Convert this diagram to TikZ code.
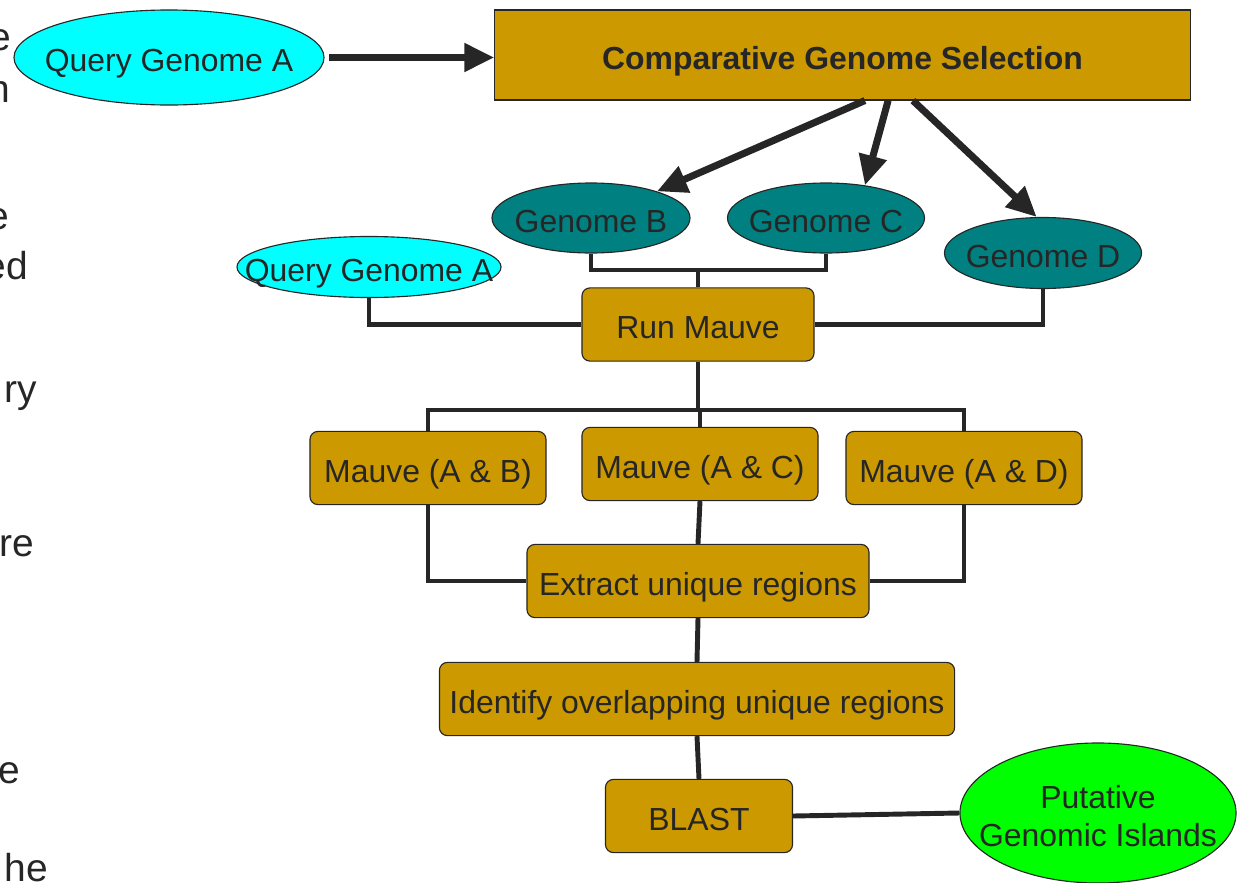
\documentclass[tikz,border=0pt]{standalone}
\usepackage{fontspec}
\setmainfont{Liberation Sans}
\usetikzlibrary{shapes,arrows.meta,positioning,calc}
\definecolor{gold}{HTML}{CC9900}
\definecolor{tealfill}{HTML}{008080}
\definecolor{cyanfill}{HTML}{00FFFF}
\definecolor{greenfill}{HTML}{00FF00}
\definecolor{ink}{HTML}{262626}
\newcommand{\lbl}[1]{\makebox[0pt]{#1}}

\begin{document}
\begin{tikzpicture}[x=0.025cm, y=-0.025cm,
  every node/.style={font=\fontsize{22.7pt}{27pt}\selectfont, text=ink, text height=0.7cm, text depth=0pt},
  oval/.style={ellipse, draw=ink, line width=0.8pt, fill=#1, inner sep=0pt},
  box/.style={rectangle, draw=ink, line width=0.8pt, fill=gold, rounded corners=0.2cm, inner sep=0pt, minimum height=1.83cm},
  selbox/.style={rectangle, draw=ink, line width=0.8pt, fill=gold, inner sep=0pt},
  conn/.style={draw=ink, line width=3.5pt},
  arr/.style={-{Triangle[length=7.5mm, width=6.8mm]}, draw=ink, fill=ink, line width=5pt},
  frag/.style={anchor=base east, inner sep=0pt, font=\fontsize{27.7pt}{32pt}\selectfont}
]
  \useasboundingbox (0,0) rectangle (1237,882);
  \clip (0,0) rectangle (1237,882);

  % cut-off text at the left edge
  \node[frag] (f1) at (11,50) {e};
  \node[frag] (f2) at (10,102) {n};
  \node[frag] (f3) at (9,229) {e};
  \node[frag] (f4) at (28,279) {ed};
  \node[frag] (f5) at (37,402) {ry};
  \node[frag] (f6) at (34,556) {re};
  \node[frag] (f7) at (20,783) {e};
  \node[frag] (f8) at (48,881) {he};

  % genome selection
  \node[oval=cyanfill, minimum width=7.75cm, minimum height=2.375cm] (qa1) at (169,57.5) {\lbl{Query Genome A}};
  \node[selbox, minimum width=17.375cm, minimum height=2.25cm] (sel) at (842.5,55) {\textbf{Comparative Genome Selection}};
  \node[oval=tealfill, minimum width=4.95cm, minimum height=1.75cm] (gB) at (591,218) {\lbl{Genome B}};
  \node[oval=tealfill, minimum width=4.925cm, minimum height=1.75cm] (gC) at (826,218) {\lbl{Genome C}};
  \node[oval=tealfill, minimum width=4.925cm, minimum height=1.775cm] (gD) at (1043,253) {\lbl{Genome D}};
  \node[oval=cyanfill, minimum width=6.6cm, minimum height=1.525cm] (qa2) at (369,267) {\lbl{Query Genome A}};

  % alignment steps
  \node[box, minimum width=5.8cm] (mauve) at (698,324.5) {Run Mauve};
  \node[box, minimum width=5.9cm] (mAB) at (428,468) {Mauve (A \& B)};
  \node[box, minimum width=5.9cm] (mAC) at (700,464) {Mauve (A \& C)};
  \node[box, minimum width=5.9cm] (mAD) at (964,468) {Mauve (A \& D)};
  \node[box, minimum width=8.55cm] (extract) at (698,581) {Extract unique regions};
  \node[box, minimum width=12.875cm] (overlap) at (697,699) {Identify overlapping unique regions};
  \node[box, minimum width=4.675cm] (blast) at (699,816) {BLAST};
  \node[oval=greenfill, minimum width=6.9cm, minimum height=3.5cm] (islands) at (1098,813)
    {\lbl{\begin{tabular}{@{}c@{}}Putative\\Genomic Islands\end{tabular}}};

  % arrows
  \draw[arr] ([xshift=0.12cm]qa1.east) -- (sel.west |- qa1.east);
  \draw[arr] ([xshift=0.56cm]sel.south) -- (gB.22);
  \draw[arr] ([xshift=1.14cm]sel.south) -- (gC.40);
  \draw[arr] ([xshift=1.76cm]sel.south) -- (gD.100);

  % connectors
  \coordinate (bcjoin) at (698,270);
  \coordinate (split) at (698,410);
  \draw[conn] (gB.south) |- (bcjoin) -| (gC.south);
  \draw[conn] (bcjoin) -- (mauve.north);
  \draw[conn] (qa2.south) |- (mauve.west);
  \draw[conn] (gD.south) |- (mauve.east);
  \draw[conn] (mauve.south) -- (split);
  \draw[conn] (mAB.north) |- (split) -| (mAD.north);
  \draw[conn] (mAC.north) -- (mAC.north |- split);
  \draw[conn] (mAB.south) |- (extract.west);
  \draw[conn] (mAD.south) |- (extract.east);
  \draw[conn] (mAC.south) -- (extract.north);
  \draw[conn] (extract.south) -- (overlap.north);
  \draw[conn] (overlap.south) -- (blast.north);
  \draw[conn] (blast.east) -- (islands.west);
\end{tikzpicture}
\end{document}
